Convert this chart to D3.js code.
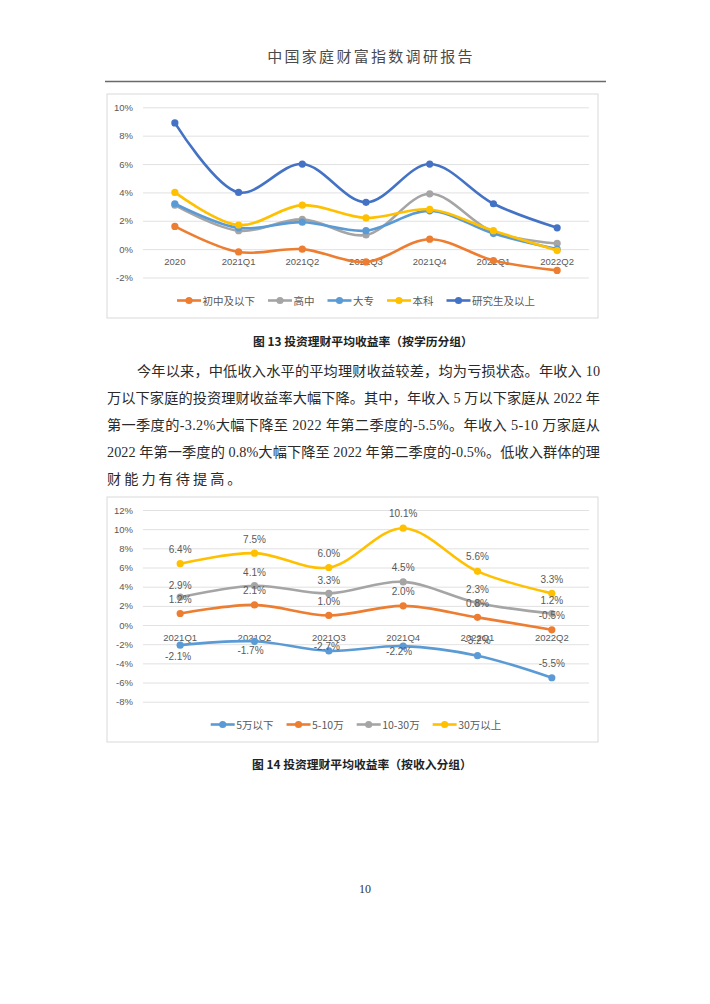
<!DOCTYPE html>
<html><head><meta charset="utf-8">
<script src="https://cdn.jsdelivr.net/npm/d3@7/dist/d3.min.js"></script>
<style>
html,body{margin:0;padding:0;background:#fff;}
svg{display:block;}
</style></head>
<body>
<svg id="page" width="710" height="1004"></svg>
<script>
// ---------- Data ----------
const headerTitle = "中国家庭财富指数调研报告";

const eduCategories = ["2020","2021Q1","2021Q2","2021Q3","2021Q4","2022Q1","2022Q2"];
const eduSeriesNames = ["初中及以下","高中","大专","本科","研究生及以上"];
const eduJuniorOrBelow = [1.6,-0.2,0.0,-0.9,0.7,-0.8,-1.5];
const eduHighSchool    = [3.1,1.3,2.1,1.0,3.9,1.2,0.4];
const eduCollege       = [3.2,1.5,1.9,1.3,2.7,1.1,0.0];
const eduBachelor      = [4.0,1.7,3.1,2.2,2.8,1.3,-0.1];
const eduPostgrad      = [8.9,4.0,6.0,3.3,6.0,3.2,1.5];
const eduTicks = [-2,0,2,4,6,8,10];
const caption13 = "图 13 投资理财平均收益率（按学历分组）";

const paragraphLines = [
  "今年以来，中低收入水平的平均理财收益较差，均为亏损状态。年收入 10",
  "万以下家庭的投资理财收益率大幅下降。其中，年收入 5 万以下家庭从 2022 年",
  "第一季度的-3.2%大幅下降至 2022 年第二季度的-5.5%。年收入 5-10 万家庭从",
  "2022 年第一季度的 0.8%大幅下降至 2022 年第二季度的-0.5%。低收入群体的理",
  "财能力有待提高。"
];

const incCategories = ["2021Q1","2021Q2","2021Q3","2021Q4","2022Q1","2022Q2"];
const incSeriesNames = ["5万以下","5-10万","10-30万","30万以上"];
const incUnder5   = [-2.1,-1.7,-2.7,-2.2,-3.2,-5.5];
const inc5to10    = [1.2,2.1,1.0,2.0,0.8,-0.5];
const inc10to30   = [2.9,4.1,3.3,4.5,2.3,1.2];
const incOver30   = [6.4,7.5,6.0,10.1,5.6,3.3];
const incTicks = [-8,-6,-4,-2,0,2,4,6,8,10,12];
const caption14 = "图 14 投资理财平均收益率（按收入分组）";
const pageNumber = "10";

// ---------- Styles ----------
const C_ORANGE="#ED7D31", C_GRAY="#A5A5A5", C_LBLUE="#5B9BD5", C_YELLOW="#FFC000", C_DBLUE="#4472C4";
const AXIS_TXT="#595959", GRID="#D9D9D9";
const CJK = "'Noto Sans CJK SC','Noto Sans',sans-serif";
const SERIF_MIX = "'Liberation Serif','Noto Sans CJK SC',serif";
const CHART_FONT = "'Liberation Sans','Noto Sans CJK SC',sans-serif";

const svg = d3.select("#page");

// header
svg.append("text").attr("x",371).attr("y",62).attr("text-anchor","middle")
  .attr("font-family",CJK).attr("font-size",15).attr("letter-spacing",2.3)
  .attr("fill","#4a4a4a").text(headerTitle);
svg.append("line").attr("x1",105).attr("x2",606).attr("y1",81.5).attr("y2",81.5)
  .attr("stroke","#6a6a6a").attr("stroke-width",1.6);

function drawChart(opt){
  const g = svg.append("g");
  g.append("rect").attr("x",opt.frame[0]).attr("y",opt.frame[1])
    .attr("width",opt.frame[2]-opt.frame[0]).attr("height",opt.frame[3]-opt.frame[1])
    .attr("fill","#fff").attr("stroke",GRID).attr("stroke-width",1);
  const x = d3.scaleBand().domain(opt.categories).range([143,589]);
  const y = d3.scaleLinear().domain(opt.domain).range(opt.yRange);
  // grid
  const yAxis = d3.axisLeft(y).tickValues(opt.ticks).tickSize(-(589-143)).tickPadding(10)
    .tickFormat(d=>d+"%");
  const ga = g.append("g").attr("transform","translate(143,0)").call(yAxis);
  ga.select(".domain").remove();
  ga.selectAll(".tick line").attr("stroke",GRID).attr("stroke-width",0.8);
  ga.selectAll(".tick text").attr("fill",AXIS_TXT).attr("font-size",9.5).attr("font-family",CHART_FONT);
  // x labels at zero line
  const xAxis = d3.axisBottom(x).tickSize(0).tickPadding(9);
  const gx = g.append("g").attr("transform",`translate(0,${y(0)})`).call(xAxis);
  gx.select(".domain").remove();
  gx.selectAll(".tick text").attr("fill",AXIS_TXT).attr("font-size",9.5).attr("font-family",CHART_FONT);
  // series
  const line = d3.line().x((d,i)=>x(opt.categories[i])+x.bandwidth()/2).y(d=>y(d))
    .curve(d3.curveCatmullRom.alpha(0.5));
  opt.series.forEach(s=>{
    g.append("path").datum(s.values).attr("d",line).attr("fill","none")
      .attr("stroke",s.color).attr("stroke-width",2.6).attr("stroke-linecap","round");
    g.selectAll(null).data(s.values).enter().append("circle")
      .attr("cx",(d,i)=>x(opt.categories[i])+x.bandwidth()/2).attr("cy",d=>y(d))
      .attr("r",3.6).attr("fill",s.color);
  });
  // data labels
  if(opt.labels){
    opt.series.forEach((s,si)=>{
      const shifts = opt.labelShift[si];
      g.selectAll(null).data(s.values).enter().append("text")
        .attr("x",(d,i)=>x(opt.categories[i])+x.bandwidth()/2 + shifts[i][0])
        .attr("y",(d,i)=>y(d)+shifts[i][1])
        .attr("text-anchor","middle").attr("dominant-baseline","central")
        .attr("font-family",CHART_FONT).attr("font-size",10).attr("fill",AXIS_TXT)
        .text(d=>d.toFixed(1)+"%");
    });
  }
  // legend
  const lg = g.append("g");
  const items = [];
  let cx = 0;
  opt.series.forEach(s=>{
    const it = lg.append("g").attr("transform",`translate(${cx},0)`);
    it.append("line").attr("x1",0).attr("x2",24).attr("y1",0).attr("y2",0)
      .attr("stroke",s.color).attr("stroke-width",2.6);
    it.append("circle").attr("cx",12).attr("cy",0).attr("r",3.6).attr("fill",s.color);
    const t = it.append("text").attr("x",25.5).attr("y",0).attr("dominant-baseline","central")
      .attr("font-family",CJK).attr("font-size",10.5).attr("fill",AXIS_TXT).text(s.name);
    const w = t.node().getComputedTextLength();
    cx += 25.5 + w + 13;
  });
  const total = cx - 13;
  lg.attr("transform",`translate(${356 - total/2},${opt.legendY})`);
}

drawChart({
  frame:[107,94,598,318],
  categories: eduCategories,
  domain:[-2,10], yRange:[277.5,107.3], ticks: eduTicks,
  series:[
    {name:eduSeriesNames[0], values:eduJuniorOrBelow, color:C_ORANGE},
    {name:eduSeriesNames[1], values:eduHighSchool, color:C_GRAY},
    {name:eduSeriesNames[2], values:eduCollege, color:C_LBLUE},
    {name:eduSeriesNames[3], values:eduBachelor, color:C_YELLOW},
    {name:eduSeriesNames[4], values:eduPostgrad, color:C_DBLUE}
  ],
  legendY:300.5, labels:false
});

svg.append("text").attr("x",363).attr("y",340).attr("text-anchor","middle")
  .attr("dominant-baseline","central").attr("font-family",CJK).attr("font-weight","bold")
  .attr("font-size",11.8).attr("fill","#222").text(caption13);

// paragraph
const paraY0 = 371, paraStep = 27;
paragraphLines.forEach((ln,i)=>{
  const xs = i===0 ? 137 : 107;
  const t = svg.append("text").attr("x",xs).attr("y",paraY0+i*paraStep)
    .attr("dominant-baseline","central").attr("font-family",SERIF_MIX)
    .attr("font-size",14.2).attr("fill","#2a2a2a").text(ln);
  if(i < paragraphLines.length-1){
    t.attr("textLength",600-xs).attr("lengthAdjust","spacing");
  } else {
    t.attr("letter-spacing",3);
  }
});

drawChart({
  frame:[107,497,598,742],
  categories: incCategories,
  domain:[-8,12], yRange:[701.7,510], ticks: incTicks,
  series:[
    {name:incSeriesNames[0], values:incUnder5, color:C_LBLUE},
    {name:incSeriesNames[1], values:inc5to10, color:C_ORANGE},
    {name:incSeriesNames[2], values:inc10to30, color:C_GRAY},
    {name:incSeriesNames[3], values:incOver30, color:C_YELLOW}
  ],
  labels:true,
  labelShift:[
    [[-2,11],[-4,9],[-2,-4],[-4,5],[0,-15],[0,-14]],
    [[0,-14],[0,-14],[0,-14],[0,-14],[0,-14],[0,-14]],
    [[0,-12],[0,-13],[0,-13],[0,-14],[0,-13],[0,-13]],
    [[0,-14],[0,-14],[0,-14],[0,-15],[0,-15],[0,-14]]
  ],
  legendY:724.5
});

svg.append("text").attr("x",362).attr("y",763).attr("text-anchor","middle")
  .attr("dominant-baseline","central").attr("font-family",CJK).attr("font-weight","bold")
  .attr("font-size",11.8).attr("fill","#222").text(caption14);

svg.append("text").attr("x",365).attr("y",889).attr("text-anchor","middle")
  .attr("dominant-baseline","central").attr("font-family","'Liberation Serif',serif")
  .attr("font-size",12).attr("fill","#333").text(pageNumber);
</script>
</body></html>
